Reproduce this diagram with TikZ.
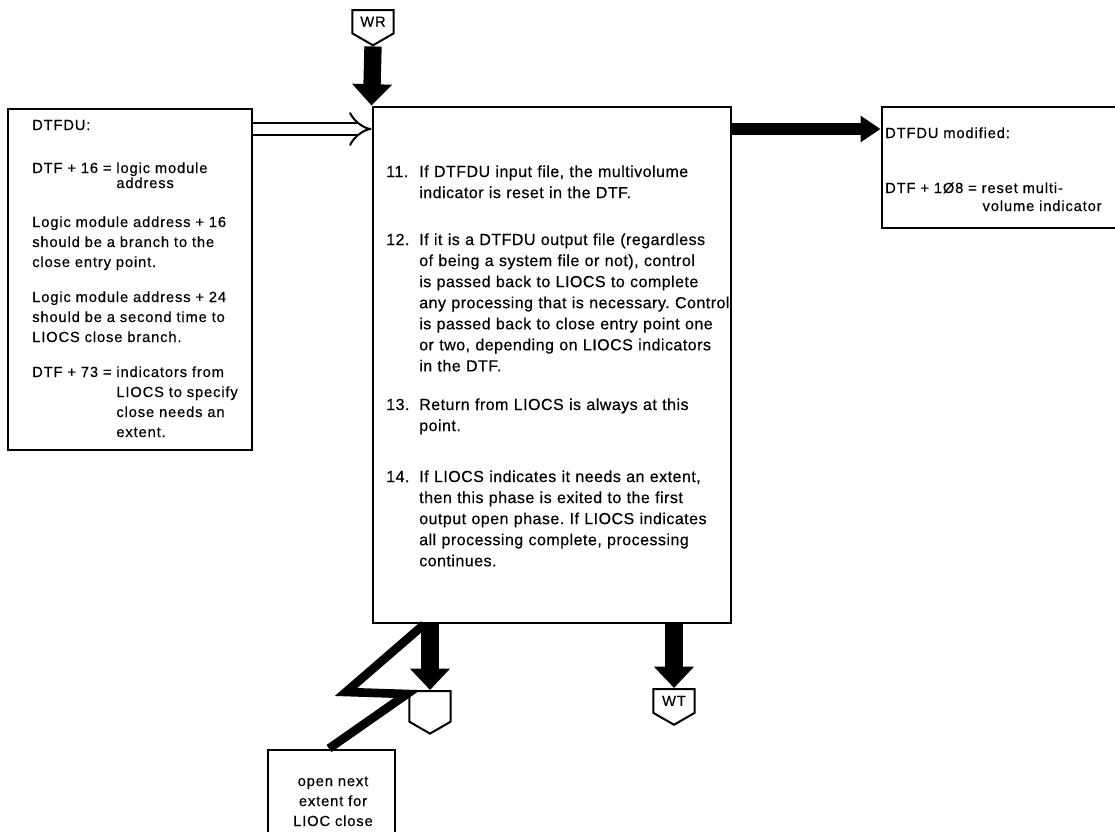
\documentclass[tikz,border=0pt]{standalone}
\usepackage{fontspec}
\setmainfont{Liberation Sans}[LetterSpace=6, FakeBold=0.4]
\usetikzlibrary{arrows.meta, shapes.symbols, fit, calc}

\newcommand{\stepfont}{\fontsize{12}{15.8}\selectfont\addfontfeature{LetterSpace=3}}
\newcommand{\notefont}{\fontsize{11}{15}\selectfont}
\frenchspacing

\begin{document}
\begin{tikzpicture}[
    x=0.75pt, y=-0.75pt,
    every node/.style={inner sep=0pt},
    box/.style={draw, line width=2.2pt, fit={#1}},
    note/.style={anchor=base west, align=left, text width=190pt, font=\notefont},
    stepnum/.style={anchor=base west, font=\stepfont},
    steptext/.style={anchor=base west, align=left, text width=250pt, font=\stepfont},
    conn/.style={draw, line width=1.5pt, shape=signal, signal to=south, signal from=nowhere,
        signal pointer angle=120, minimum width=31pt, minimum height=23pt, anchor=north,
        font=\fontsize{11}{13}\selectfont},
    flow/.style={line width=13pt, -{Triangle[length=16pt, width=29pt]}},
    bolt/.style={line width=6.5pt, line join=miter},
    dbl/.style={double, double distance=7.5pt, line width=1.5pt, -{Implies}}
]
\useasboundingbox (0,0) rectangle (1115,832);
\clip (0,0) rectangle (1115,832);

% boxes
\node[box={(8,109) (252,450)}] (dtf) {};
\node[box={(373,107) (731,623)}] (main) {};
\node[box={(882,107) (1140,228)}] (mod) {};
\node[box={(268,750) (395,860)}] (nxt) {};

% off-page connectors
\node[conn] (wr) at (373,9) {WR};
\node[conn] (ext) at (430,690) {};
\node[conn] (wt) at (674,688) {WT};

% input DTF fields
\node[note] (p1) at (32,130) {DTFDU:};
\node[note] (p2) at (32,173) {DTF + 16 = logic module\\[-3.75pt]\phantom{DTF + 16 = }address};
\node[note] (p3) at (32,227) {Logic module address + 16\\should be a branch to the\\close entry point.};
\node[note] (p4) at (32,302) {Logic module address + 24\\should be a second time to\\LIOCS close branch.};
\node[note] (p5) at (32,377) {DTF + 73 = indicators from\\\phantom{DTF + 73 = }LIOCS to specify\\\phantom{DTF + 73 = }close needs an\\\phantom{DTF + 73 = }extent.};

% processing steps
\node[stepnum] (n11) at (386,177) {11.};
\node[steptext] (s11) at (419,177) {If DTFDU input file, the multivolume\\indicator is reset in the DTF.};
\node[stepnum] (n12) at (386,245) {12.};
\node[steptext] (s12) at (419,245) {If it is a DTFDU output file (regardless\\of being a system file or not), control\\is passed back to LIOCS to complete\\any processing that is necessary. Control\\is passed back to close entry point one\\or two, depending on LIOCS indicators\\in the DTF.};
\node[stepnum] (n13) at (386,410) {13.};
\node[steptext] (s13) at (419,410) {Return from LIOCS is always at this\\point.};
\node[stepnum] (n14) at (386,482) {14.};
\node[steptext] (s14) at (419,482) {If LIOCS indicates it needs an extent,\\then this phase is exited to the first\\output open phase. If LIOCS indicates\\all processing complete, processing\\continues.};

% output DTF fields
\node[note] (m1) at (885,138) {DTFDU modified:};
\node[note] (m2) at (885,193) {DTF + 1Ø8 = reset multi-\\[-1.5pt]\hspace*{73pt}volume indicator};

% next extent
\node[anchor=base, align=center, text width=100pt, font=\notefont] (nt) at (333,786) {open next\\extent for\\LIOC close};

% connectors
\draw[flow] (wr.south) -- (main.north west);
\draw[dbl] (dtf.east |- 0,129) -- (main.west |- 0,129);
\draw[flow, line width=9pt, -{Triangle[length=15pt, width=19pt]}] (main.east |- 0,129) -- (mod.west |- 0,129);
\draw[flow] (main.south -| ext.north) -- (ext.north);
\draw[flow] (main.south -| wt.north) -- (wt.north);
\draw[bolt] (main.south -| 424,0) -- (346,692) -- (407,694) -- (nxt.north -| 329,0);

\end{tikzpicture}
\end{document}
